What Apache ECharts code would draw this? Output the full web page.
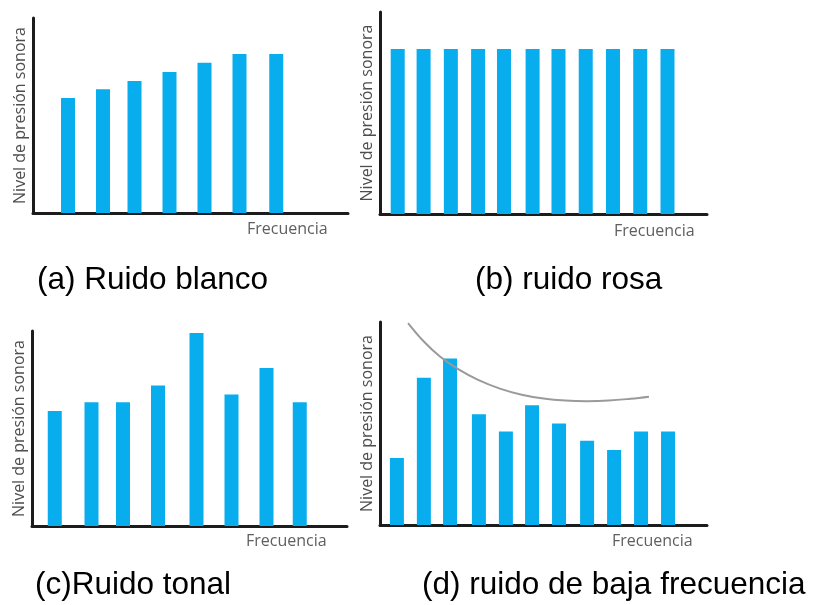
<!DOCTYPE html>
<html>
<head>
<meta charset="utf-8">
<script src="https://cdn.jsdelivr.net/npm/echarts@6/dist/echarts.min.js"></script>
<style>html,body{margin:0;padding:0;background:#fff}#c{width:815px;height:605px}</style>
</head>
<body>
<div id="c"></div>
<script>
// Panel (a) Ruido blanco
const freqA = [1, 2, 2.9, 3.9, 4.9, 5.9, 6.95];
const levelA = [59, 63.5, 67.7, 72.3, 77, 81.5, 81.5];
// Panel (b) ruido rosa
const freqB = [0.65, 1.6, 2.6, 3.6, 4.55, 5.6, 6.55, 7.55, 8.55, 9.55, 10.55];
const levelB = [81.7, 81.7, 81.7, 81.7, 81.7, 81.7, 81.7, 81.7, 81.7, 81.7, 81.7];
// Panel (c) Ruido tonal
const freqC = [0.65, 1.7, 2.6, 3.6, 4.7, 5.7, 6.7, 7.65];
const levelC = [59, 63.5, 63.5, 72, 99, 67.5, 81, 63.5];
// Panel (d) ruido de baja frecuencia
const freqD = [0.62, 1.61, 2.57, 3.63, 4.62, 5.58, 6.57, 7.6, 8.59, 9.58, 10.57];
const levelD = [33, 72.5, 82, 54.5, 46, 59, 50, 41.5, 37, 46, 46];
// Envelope curve in panel (d)
const curveX = [1.03, 1.6, 2.2, 2.9, 3.6, 4.4, 5.2, 6.0, 6.8, 7.6, 8.4, 9.2, 9.87];
const curveY = [99.5, 90.5, 83, 76.5, 71.5, 67.2, 64.2, 62.3, 61.3, 61.0, 61.3, 62.2, 63.2];

const yLabel = 'Nivel de presión sonora';
const xLabel = 'Frecuencia';
const captions = ['(a) Ruido blanco', '(b) ruido rosa', '(c)Ruido tonal', '(d) ruido de baja frecuencia'];

const zip = (xs, ys) => xs.map((x, i) => [x, ys[i]]);
const BAR = '#08adee';
const AX = '#1c1c1c';

const grids = [
  {left: 33, top: 18, width: 315, height: 195},
  {left: 380, top: 12, width: 327, height: 202},
  {left: 32, top: 331, width: 315, height: 195},
  {left: 380, top: 322, width: 327, height: 203}
];
const xMax = [9, 12, 9, 12];

const xAxes = grids.map((g, i) => ({
  type: 'value', gridIndex: i, min: 0, max: xMax[i],
  axisLine: {show: true, onZero: false, lineStyle: {color: AX, width: 3}},
  axisTick: {show: false}, axisLabel: {show: false}, splitLine: {show: false}
}));
const yAxes = grids.map((g, i) => ({
  type: 'value', gridIndex: i, min: 0, max: 100,
  axisLine: {show: true, lineStyle: {color: AX, width: 3}},
  axisTick: {show: false}, axisLabel: {show: false}, splitLine: {show: false},
  name: yLabel, nameLocation: 'middle', nameRotate: 90, nameGap: 5,
  nameTextStyle: {color: '#4d4d4d', fontSize: 16, fontFamily: 'Open Sans'}
}));

const barSeries = (i, xs, ys) => ({
  type: 'bar', xAxisIndex: i, yAxisIndex: i, data: zip(xs, ys),
  barWidth: 14, itemStyle: {color: BAR}, silent: true, z: 1
});

const series = [
  barSeries(0, freqA, levelA),
  barSeries(1, freqB, levelB),
  barSeries(2, freqC, levelC),
  barSeries(3, freqD, levelD),
  {
    type: 'line', xAxisIndex: 3, yAxisIndex: 3, data: zip(curveX, curveY),
    smooth: 0.4, showSymbol: false, symbol: 'none',
    lineStyle: {color: '#9a9a9a', width: 2}, z: 5
  }
];

const freqPos = [[247, 229], [614, 231], [246, 541], [612, 541]];
const capPos = [[37, 280], [475, 280], [35, 585], [422, 585]];
const graphics = [];
freqPos.forEach(p => graphics.push({
  type: 'text', x: p[0], y: p[1],
  style: {text: xLabel, font: '16px "Open Sans"', fill: '#606060', verticalAlign: 'middle', align: 'left'}
}));
capPos.forEach((p, i) => graphics.push({
  type: 'text', x: p[0], y: p[1],
  style: {text: captions[i], font: '31.5px "Liberation Sans"', fill: '#000', verticalAlign: 'middle', align: 'left'}
}));

const chart = echarts.init(document.getElementById('c'), null, {renderer: 'canvas'});
chart.setOption({
  animation: false,
  backgroundColor: '#fff',
  grid: grids,
  xAxis: xAxes,
  yAxis: yAxes,
  series: series,
  graphic: graphics
});
</script>
</body>
</html>
